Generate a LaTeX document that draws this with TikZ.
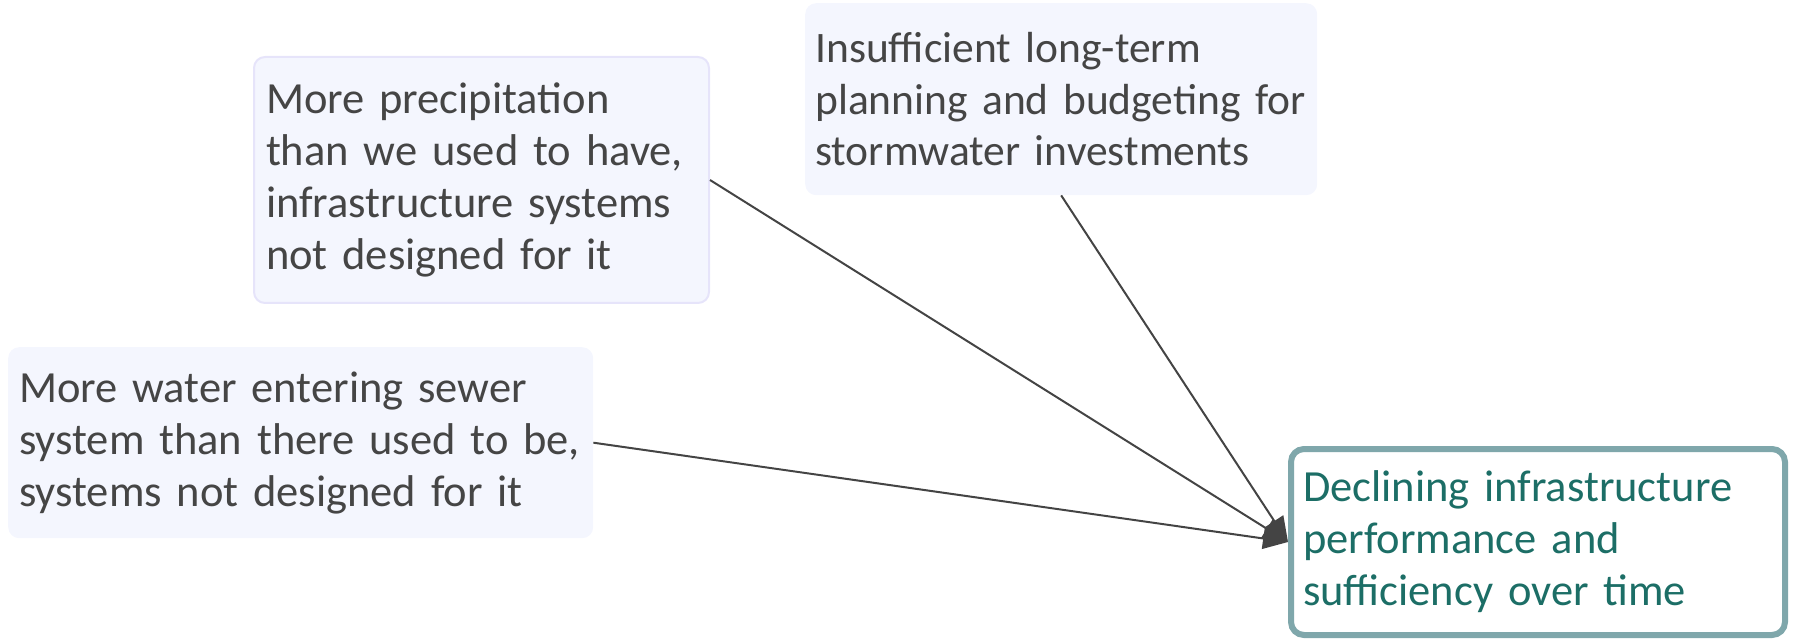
\documentclass[tikz,border=0pt]{standalone}
\usepackage{fontspec}
\setmainfont{Carlito}
\usetikzlibrary{arrows.meta}
\definecolor{causefill}{HTML}{F4F6FE}
\definecolor{causeedge}{HTML}{E6E4FA}
\definecolor{causetext}{HTML}{454545}
\definecolor{effectedge}{HTML}{7FA7AB}
\definecolor{effecttext}{HTML}{1C6E66}
\definecolor{linkgray}{HTML}{444444}
\tikzset{
  cause/.style={anchor=north west, fill=causefill, rounded corners=11pt,
    text=causetext, align=left, inner ysep=0pt,
    font=\fontsize{44.5}{52}\selectfont},
  effect/.style={anchor=north west, fill=white, draw=effectedge, line width=6pt,
    rounded corners=13pt, text=effecttext, align=left, inner ysep=0pt,
    font=\fontsize{44.5}{52}\selectfont},
  link/.style={draw=linkgray, line width=2pt,
    -{Triangle[length=25pt,width=21pt]}, fill=linkgray},
}
\begin{document}
\begin{tikzpicture}[x=1pt,y=-1pt]
\useasboundingbox (0,0) rectangle (1796,644);
% causes (each line kept whole with \mbox so nothing rewraps)
\node[cause, draw=causeedge, line width=2pt, minimum width=455pt, minimum height=246pt,
      text width=431pt, inner xsep=12pt] (precip) at (253,56)
  {\mbox{More precipitation}\\\mbox{than we used to have,}\\
   \mbox{infrastructure systems}\\\mbox{not designed for it}};
\node[cause, minimum width=512pt, minimum height=192pt,
      text width=492pt, inner xsep=10pt, font=\fontsize{43.5}{51.5}\selectfont]
      (planning) at (805,3)
  {\mbox{Insufficient long-term}\\\mbox{planning and budgeting for}\\
   \mbox{stormwater investments}};
\node[cause, minimum width=585pt, minimum height=191pt,
      text width=563pt, inner xsep=11pt] (sewer) at (8,347)
  {\mbox{More water entering sewer}\\\mbox{system than there used to be,}\\
   \mbox{systems not designed for it}};
% effect
\node[effect, minimum width=494pt, minimum height=186pt,
      text width=470pt, inner xsep=12pt] (decline) at (1288,446)
  {\mbox{Declining infrastructure}\\\mbox{performance and}\\
   \mbox{sufficiency over time}};
% links
\draw[link] (precip.east) -- (decline.west);
\draw[link] (planning.south) -- (decline.west);
\draw[link] (sewer.east) -- (decline.west);
\end{tikzpicture}
\end{document}
